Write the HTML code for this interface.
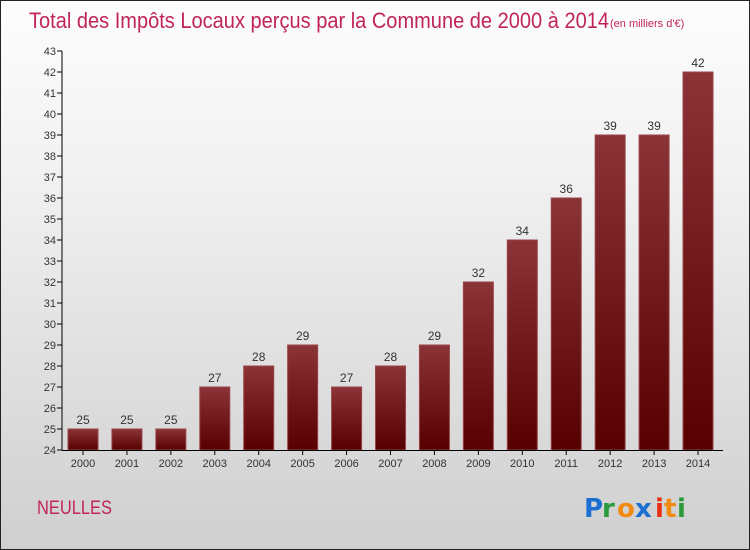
<!DOCTYPE html>
<html><head><meta charset="utf-8"><style>
body{margin:0}
#c{position:relative;width:748px;height:548px;border:1px solid #222;background:linear-gradient(#fdfdfd,#f2f2f2 30%,#cfcfcf);overflow:hidden;font-family:"Liberation Sans",sans-serif}
</style></head><body>
<div id="c">
<svg width="748" height="548">
<defs><linearGradient id="g" x1="0" y1="0" x2="0" y2="1"><stop offset="0" stop-color="#8b3438"/><stop offset="1" stop-color="#560000"/></linearGradient></defs>
<text x="28" y="27" font-size="22" fill="#c0245a" textLength="580" lengthAdjust="spacingAndGlyphs">Total des Impôts Locaux perçus par la Commune de 2000 à 2014</text>
<text x="609" y="26" font-size="11" fill="#c0245a">(en milliers d'€)</text>
<text x="36" y="513" font-size="19" fill="#c0245a" textLength="75" lengthAdjust="spacingAndGlyphs">NEULLES</text>
<g id="plot"></g>
<g font-family="'DejaVu Sans',sans-serif" font-size="26" font-weight="bold">
<text x="583" y="516" fill="#1a6fd0">P</text><text x="601" y="516" fill="#2a9a3a">r</text><text x="616" y="516" fill="#f08a10">o</text><text x="634" y="516" fill="#1a6fd0">x</text><text x="654" y="516" fill="#e83010">i</text><text x="663" y="516" fill="#f08a10">t</text><text x="676" y="516" fill="#2a9a3a">i</text>
</g>
</svg></div>
<script>
const years=["2000","2001","2002","2003","2004","2005","2006","2007","2008","2009","2010","2011","2012","2013","2014"];
const values=[25,25,25,27,28,29,27,28,29,32,34,36,39,39,42];
const yTicks=[24,25,26,27,28,29,30,31,32,33,34,35,36,37,38,39,40,41,42,43];
const ns="http://www.w3.org/2000/svg",p=document.getElementById('plot');
const y=v=>449-(v-24)*(399/19);
const x=i=>82+i*43.93;
function el(t,a,txt){const e=document.createElementNS(ns,t);for(const k in a)e.setAttribute(k,a[k]);if(txt!=null)e.textContent=txt;p.appendChild(e);return e;}
yTicks.forEach(t=>{const l=el('line',{x1:56,x2:61,y1:y(t),y2:y(t),stroke:'#000'});

const tx=el('text',{x:55,y:y(t)+4,'font-size':11,fill:'#333','text-anchor':'end'},t);
});
values.forEach((v,i)=>{const r=el('rect',{x:x(i)-15,y:y(v),width:30,height:449-y(v),fill:'url(#g)',stroke:'#9a4448','stroke-width':1});

const vl=el('text',{x:x(i),y:y(v)-5,'font-size':12,fill:'#333','text-anchor':'middle'},v);

const tk=el('line',{x1:x(i),x2:x(i),y1:449,y2:454,stroke:'#000'});

const xl=el('text',{x:x(i),y:466,'font-size':11,fill:'#333','text-anchor':'middle'},years[i]);
});
const ya=el('line',{x1:61,x2:61,y1:y(43),y2:449,stroke:'#000'});

const xa=el('line',{x1:61,x2:722,y1:449.5,y2:449.5,stroke:'#000'});

</script>
</body></html>
